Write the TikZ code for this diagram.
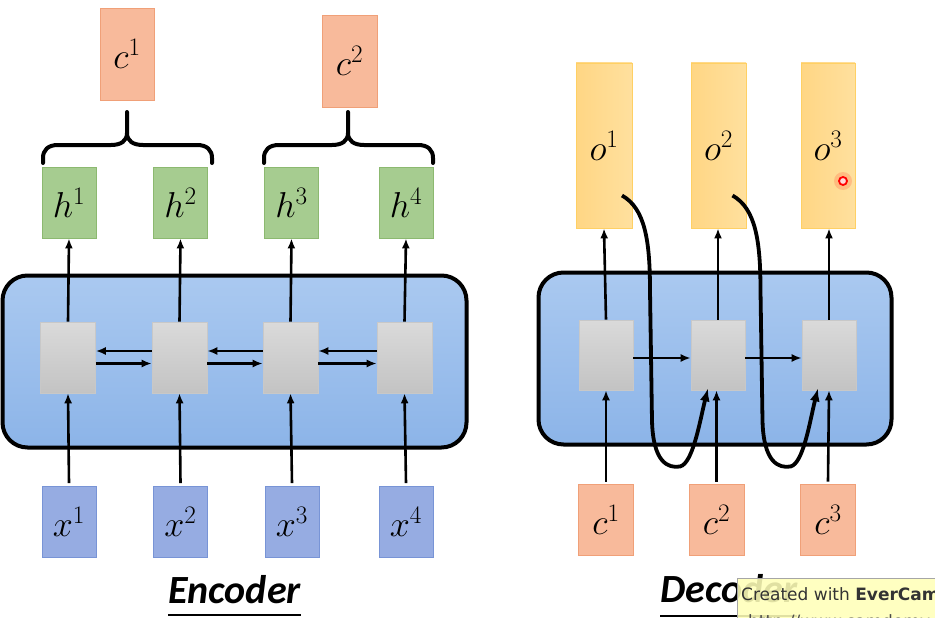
\RequirePackage{fix-cm}
\documentclass[tikz,border=0pt]{standalone}
\usepackage{fontspec}
\newfontfamily\carlito{Carlito}
\newfontfamily\dejavu{DejaVu Sans}
\usetikzlibrary{arrows.meta}
\definecolor{cfill}{RGB}{248,186,155}
\definecolor{cdraw}{RGB}{240,160,120}
\definecolor{hfill}{RGB}{166,204,144}
\definecolor{hdraw}{RGB}{140,185,112}
\definecolor{xfill}{RGB}{150,172,226}
\definecolor{xdraw}{RGB}{120,148,214}
\definecolor{ofillA}{RGB}{255,214,132}
\definecolor{ofillB}{RGB}{255,224,158}
\definecolor{odraw}{RGB}{255,208,100}
\definecolor{panelA}{RGB}{170,201,240}
\definecolor{panelB}{RGB}{140,180,232}
\definecolor{grayA}{RGB}{218,218,218}
\definecolor{grayB}{RGB}{195,195,195}
\definecolor{wmfill}{RGB}{255,255,185}
\tikzset{
  lbox/.style={draw, line width=0.8pt, inner sep=0pt, minimum width=54pt, minimum height=71pt, font=\fontsize{36}{36}\selectfont},
  cbox/.style={lbox, fill=cfill, draw=cdraw},
  ctall/.style={cbox, minimum height=92pt},
  hbox/.style={lbox, fill=hfill, draw=hdraw},
  xbox/.style={lbox, fill=xfill, draw=xdraw},
  obox/.style={lbox, left color=ofillA, right color=ofillB, draw=odraw, minimum height=165pt},
  gbox/.style={draw=grayA!80!gray, line width=0.6pt, top color=grayA, bottom color=grayB, minimum width=55pt, minimum height=71pt, inner sep=0pt},
  panel/.style={draw=black, line width=4pt, rounded corners=25pt, top color=panelA, bottom color=panelB, inner sep=0pt},
  arr/.style={line width=2.6pt, -{Latex[length=10pt,width=8pt]}},
  curvearr/.style={line width=3.8pt, -{Latex[length=13pt,width=10pt]}},
  bracepath/.style={line width=4pt, line cap=round},
  title/.style={font=\carlito\bfseries\itshape\fontsize{40}{40}\selectfont, inner sep=0pt},
}
\begin{document}
\begin{tikzpicture}[x=1pt,y=-1pt]
\useasboundingbox (0,0) rectangle (935,618);
\begin{scope}
\clip (0,0) rectangle (935,618);
\fill[white] (0,0) rectangle (935,618);

% ---------------- Encoder ----------------
\node[panel, minimum width=464pt, minimum height=172pt] (enc) at (234.5,361.5) {};

\node[ctall] (ce1) at (127,54) {$c^1$};
\node[ctall, minimum width=55pt] (ce2) at (349.5,61) {$c^2$};

\foreach \s in {0,221}{
  \draw[bracepath, shift={(\s,0)}] (43,163) -- (43,158) .. controls (43,150) and (48,145) .. (58,145) -- (111,145) .. controls (121,145) and (127,141) .. (127,133) -- (127,112);
  \draw[bracepath, shift={(\s,0)}] (127,133) .. controls (127,141) and (133,145) .. (143,145) -- (197,145) .. controls (207,145) and (212,150) .. (212,158) -- (212,163);
}

\node[hbox] (h1) at (69,202.5) {$h^1$};
\node[hbox] (h2) at (180.5,202.5) {$h^2$};
\node[hbox] (h3) at (291.5,202.5) {$h^3$};
\node[hbox] (h4) at (406,202.5) {$h^4$};

\node[gbox] (e1) at (68,357.5) {};
\node[gbox] (e2) at (179.5,357.5) {};
\node[gbox] (e3) at (290.5,357.5) {};
\node[gbox] (e4) at (404.5,357.5) {};

\node[xbox] (x1) at (69,522) {$x^1$};
\node[xbox] (x2) at (180.5,522) {$x^2$};
\node[xbox] (x3) at (292,522) {$x^3$};
\node[xbox] (x4) at (406,522) {$x^4$};

\foreach \i in {1,2,3,4}{
  \draw[arr] (e\i.north) -- (h\i.south);
  \draw[arr] ([yshift=3pt]x\i.north) -- (e\i.south);
}
\foreach \a/\b in {1/2,2/3,3/4}{
  \draw[arr] ([yshift=6.5pt]e\b.west) -- ([yshift=6.5pt]e\a.east);
  \draw[arr] ([yshift=-6pt]e\a.east) -- ([yshift=-6pt]e\b.west);
}

\node[title, anchor=base] (enclab) at (234.5,603) {Encoder};
\draw[line width=2pt] ([yshift=-12pt]enclab.base west) -- ([yshift=-12pt]enclab.base east);

% ---------------- Decoder ----------------
\node[panel, minimum width=353pt, minimum height=172pt] (dec) at (715,358.5) {};

\node[obox, minimum width=56pt] (o1) at (604,145.5) {$o^1$};
\node[obox, minimum width=55pt] (o2) at (718.5,145.5) {$o^2$};
\node[obox] (o3) at (828,145.5) {$o^3$};

\node[gbox, minimum width=54pt, minimum height=70pt] (d1) at (606,355) {};
\node[gbox, minimum width=54pt, minimum height=70pt] (d2) at (718,355) {};
\node[gbox, minimum width=54pt, minimum height=70pt] (d3) at (829,355) {};

\node[cbox, minimum width=55pt] (cd1) at (606,519.5) {$c^1$};
\node[cbox, minimum width=55pt] (cd2) at (716.5,519.5) {$c^2$};
\node[cbox, minimum width=55pt] (cd3) at (828,519.5) {$c^3$};

\draw[arr] (d1.north) -- ([xshift=0pt]o1.south);
\draw[arr] (d2.north) -- (d2.north |- o2.south);
\draw[arr] (d3.north) -- (d3.north |- o3.south);
\draw[arr] ([yshift=2pt]cd1.north) -- (d1.south);
\draw[arr] ([yshift=2pt]cd2.north) -- (cd2.north |- d2.south);
\draw[arr] ([yshift=2pt]cd3.north) -- (d3.south);
\draw[arr] ([yshift=-3pt]d1.east) -- ([yshift=-3pt]d2.west);
\draw[arr] ([yshift=-3pt]d2.east) -- ([yshift=-3pt]d3.west);

\draw[curvearr] ([shift={(18,50)}]o1.center) .. controls +(23,13) and +(0,-50) .. ++(28,95) -- ++(2,130) .. controls +(1,42) and +(-12,2) .. ++(28,46) .. controls +(13,-3) and +(-8,32) .. ([shift={(-10,-2)}]d2.south);
\draw[curvearr] ([shift={(14,50)}]o2.center) .. controls +(23,13) and +(0,-50) .. ++(28,95) -- ++(2,130) .. controls +(1,42) and +(-12,2) .. ++(28,46) .. controls +(13,-3) and +(-8,32) .. ([shift={(-11,-2)}]d3.south);

% cursor mark
\node[circle, fill=red, opacity=0.15, minimum size=18pt, inner sep=0pt] (glow) at (843,181) {};
\node[circle, draw=red, line width=1.8pt, fill=red!15, minimum size=8pt, inner sep=0pt] (cursor) at (843,181) {};

\node[title, anchor=base west] (declab) at (660,602) {Decoder};
\draw[line width=2pt] ([yshift=-14pt]declab.base west) -- ([yshift=-14pt]declab.base east);

% watermark
\node[draw=gray!70, fill=wmfill, fill opacity=0.88, draw opacity=1, anchor=north west, minimum width=220pt, minimum height=50pt, inner sep=0pt] (wm) at (737,578) {};
\node[anchor=base west, font=\dejavu\fontsize{17}{17}\selectfont, text=black!80, inner sep=0pt] (wmt) at (741,600) {Created with \textbf{EverCam}};
\node[anchor=base west, font=\dejavu\fontsize{17}{17}\selectfont, text=black!70, inner sep=0pt] (wmu) at (748,627) {http://www.camdemy.com};
\end{scope}
\end{tikzpicture}
\end{document}
